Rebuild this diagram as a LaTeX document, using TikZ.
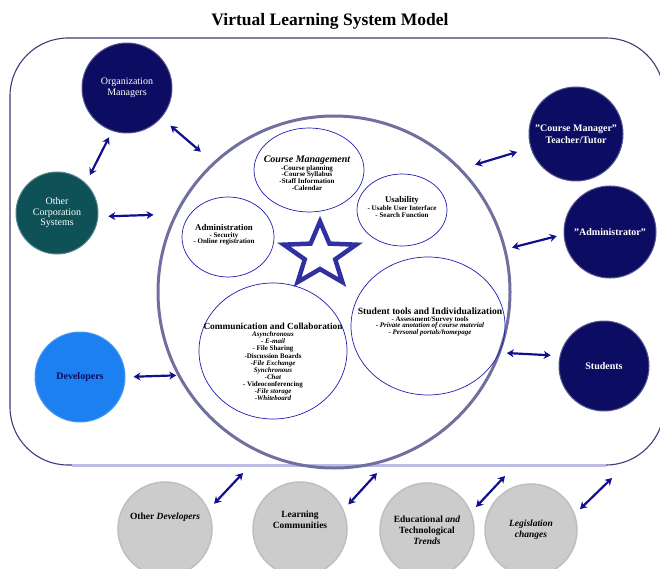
\documentclass[tikz,border=0pt]{standalone}
\usepackage{fontspec}
\setmainfont{Liberation Serif}
\usetikzlibrary{arrows.meta,shapes.geometric}
\definecolor{navy}{RGB}{12,12,98}
\definecolor{deepteal}{RGB}{14,82,88}
\definecolor{devblue}{RGB}{28,128,240}
\definecolor{ringgray}{RGB}{112,112,158}
\definecolor{inblue}{RGB}{30,30,175}
\definecolor{starblue}{RGB}{48,48,160}
\definecolor{linkblue}{RGB}{16,16,140}
\definecolor{framenavy}{RGB}{60,60,120}
\definecolor{lavender}{RGB}{188,188,226}
\definecolor{cloud}{RGB}{204,204,204}

\begin{document}
\begin{tikzpicture}[x=1pt,y=-1pt,
  actor/.style={circle,inner sep=0pt,minimum size=#1pt,fill=navy,draw=navy!70!white,line width=1pt,text=white,align=center,font=\bfseries\fontsize{10}{11.5}\selectfont},
  outside/.style={actor=#1,fill=cloud,draw=black!25,line width=1.5pt,text=black,font=\bfseries\fontsize{9.5}{11}\selectfont},
  part/.style={ellipse,draw=inblue,line width=.7pt,inner sep=0pt},
  parttext/.style={align=center,inner sep=0pt,font=\bfseries\fontsize{7}{6.6}\selectfont},
  link/.style={{Stealth[length=7pt,width=8pt]}-{Stealth[length=7pt,width=8pt]},line width=2.2pt,draw=linkblue}]
\useasboundingbox (0,0) rectangle (660,569);

% frame and title
\draw[framenavy,line width=1.1pt,rounded corners=58pt] (10,38) rectangle (664,465);
\draw[lavender,line width=3pt] (72,465) -- (606,465);
\node[font=\bfseries\fontsize{17.5}{20}\selectfont] (title) at (330,21) {Virtual Learning System Model};

% the system and its parts
\node[circle,draw=ringgray,line width=3pt,minimum size=352pt,inner sep=0pt] (main) at (334,292) {};
\node[part,minimum width=110pt,minimum height=84pt] (cmg) at (309,170) {};
\node[part,minimum width=90pt,minimum height=72pt] (usa) at (402,210) {};
\node[part,minimum width=92pt,minimum height=80pt] (adm) at (228,237) {};
\node[part,minimum width=148pt,minimum height=136pt] (com) at (273,351) {};
\node[part,minimum width=154pt,minimum height=138pt] (stl) at (428,326) {};

\node[parttext] (cmgtext) at (307,173) {{\fontsize{10}{6.6}\selectfont\itshape Course Management}\\-Course planning\\-Course Syllabus\\-Staff Information\\-Calendar};
\node[parttext] (usatext) at (402,207) {{\fontsize{8.8}{6.6}\selectfont Usability}\\- Usable User Interface\\- Search Function};
\node[parttext] (admtext) at (224,235) {{\fontsize{8.8}{6.6}\selectfont Administration}\\- Security\\- Online registration};
\node[parttext,font=\bfseries\fontsize{7}{7.1}\selectfont] (comtext) at (273,362) {{\fontsize{9.3}{7.1}\selectfont Communication and Collaboration}\\\textit{Asynchronous}\\- \textit{E-mail}\\- File Sharing\\-Discussion Boards\\-\textit{File Exchange}\\\textit{Synchronous}\\-\textit{Chat}\\- Videoconferencing\\-\textit{File storage}\\-\textit{Whiteboard}};
\node[parttext] (stltext) at (430,322) {{\fontsize{9.6}{6.6}\selectfont Student tools and Individualization}\\- Assessment/Survey tools\\- \textit{Private anotation of course material}\\- \textit{Personal portals/homepage}};

% star in the middle
\begin{scope}[shift={(320,255)},yscale=.88]
\draw[starblue,line width=4.5pt,fill=white,line join=miter]
  (-90:38) -- (-54:16) -- (-18:38) -- (18:16) -- (54:38) -- (90:16)
  -- (126:38) -- (162:16) -- (198:38) -- (234:16) -- cycle;
\end{scope}

% people and systems around it
\node[actor=90,font=\fontsize{10}{11}\selectfont] (org) at (127,88) {Organization\\Managers};
\node[actor=82,fill=deepteal,draw=deepteal!70!white,font=\fontsize{10}{10.5}\selectfont] (ocs) at (57,213) {Other\\Corporation\\Systems};
\node[actor=90,fill=devblue,draw=devblue!80!white,text=navy] (dev) at (80,377) {Developers};
\node[actor=94] (cmt) at (576,134) {"Course Manager"\\Teacher/Tutor};
\node[actor=92] (adm2) at (610,232) {"Administrator"};
\node[actor=90] (stu) at (604,366) {Students};

\node[outside=94] (odv) at (165,529) {};
\node[outside=94] (lc) at (300,529) {};
\node[outside=94] (edu) at (427,530) {Educational \textit{and}\\Technological\\\textit{Trends}};
\node[outside=92] (leg) at (531,530) {\textit{Legislation}\\\textit{changes}};
\node[font=\bfseries\fontsize{9.5}{11}\selectfont] (odvtext) at ([yshift=12pt]odv.center) {Other \textit{Developers}};
\node[align=center,font=\bfseries\fontsize{9.5}{11}\selectfont] (lctext) at ([yshift=9pt]lc.center) {Learning\\Communities};

% arrows
\coordinate (tipodv) at (243,473);
\coordinate (tiplc) at (377,473);
\coordinate (tipedu) at (505,476);
\coordinate (tipleg) at (612,478);
\draw[link,shorten <=12pt,shorten >=16pt] (org.-41) -- (main.133);
\draw[link,shorten <=7pt,shorten >=9pt] (org.-109) -- (ocs.46);
\draw[link,shorten <=10pt,shorten >=21pt] (ocs.-5) -- (main.154);
\draw[link,shorten <=8pt,shorten >=1pt] (dev.0) -- (main.208);
\draw[link,shorten <=14pt,shorten >=14pt] (cmt.197) -- (main.44);
\draw[link,shorten <=7pt,shorten >=6pt] (adm2.183) -- (main.14);
\draw[link,shorten <=9pt,shorten >=6pt] (stu.167) -- (main.-20);
\draw[link,shorten <=8pt] (odv.24) -- (tipodv);
\draw[link,shorten <=7pt] (lc.24) -- (tiplc);
\draw[link,shorten <=7pt] (edu.22) -- (tipedu);
\draw[link,shorten <=7pt] (leg.20) -- (tipleg);
\end{tikzpicture}
\end{document}
